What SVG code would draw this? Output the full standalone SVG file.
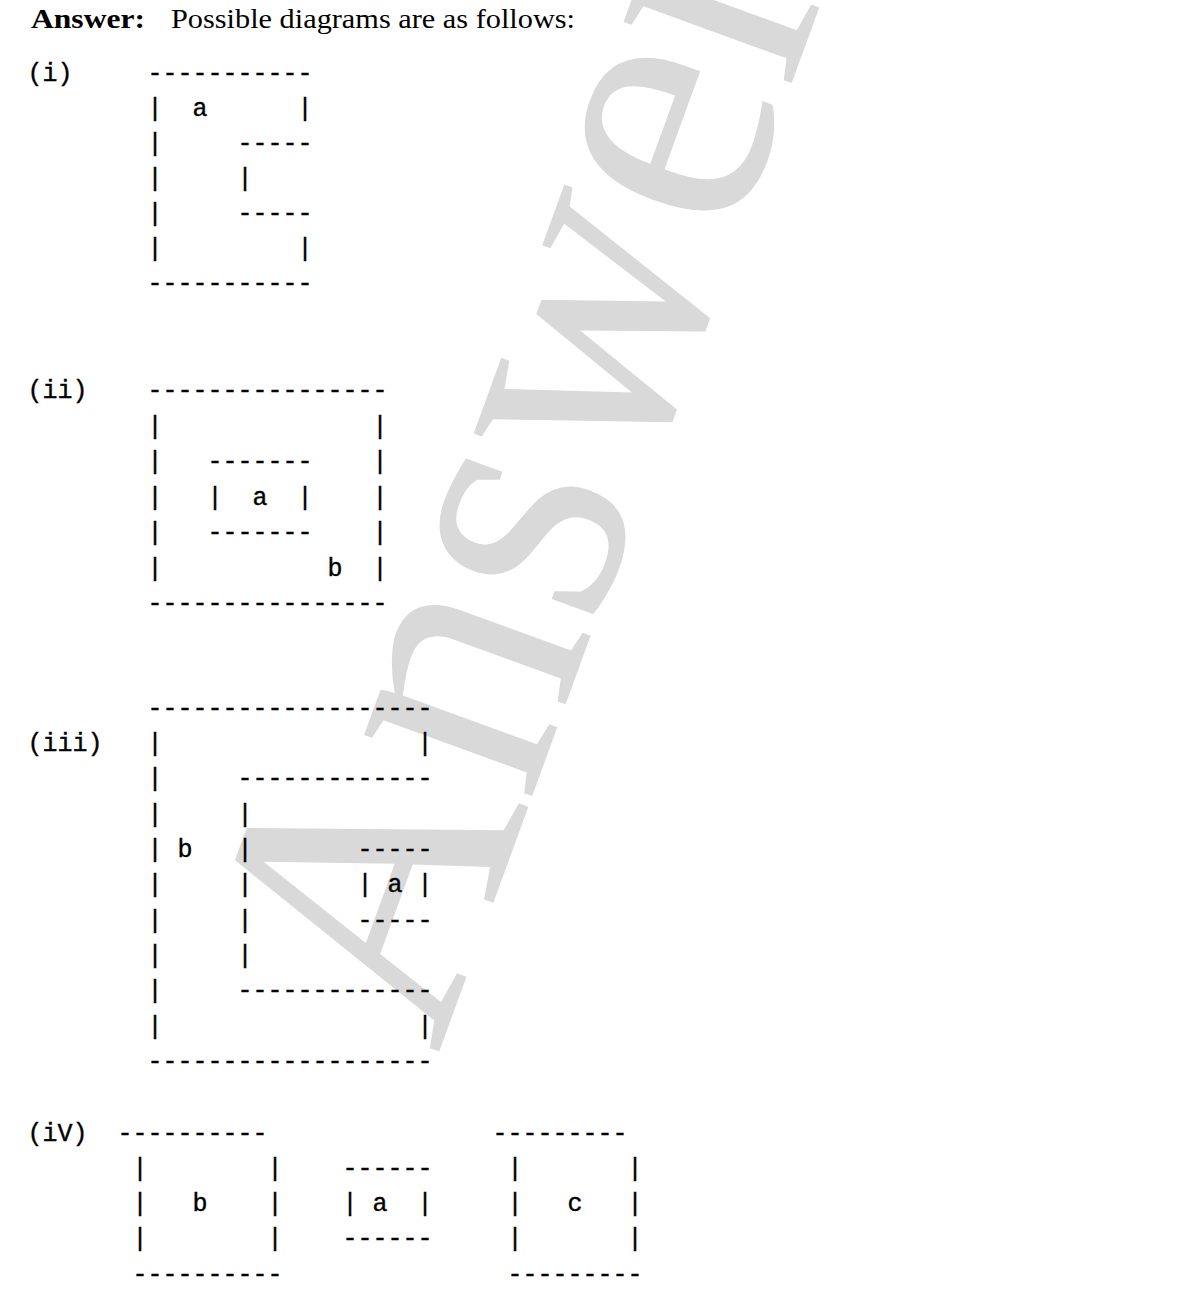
<svg xmlns="http://www.w3.org/2000/svg" width="1198" height="1302" viewBox="0 0 1198 1302" xml:space="preserve">
<style>
.wm{font-family:"Liberation Serif","DejaVu Serif",serif;fill:#d9d9d9}
.hd{font-family:"Liberation Serif","DejaVu Serif",serif;fill:#000}
.tt{font-family:"Liberation Mono","DejaVu Sans Mono",monospace;font-size:25px;fill:#000;stroke:#000;stroke-width:0.4;white-space:pre}
</style>
<rect width="1198" height="1302" fill="#ffffff"/>
<g id="watermark"><text class="wm" transform="translate(438,1055) rotate(-70)" font-size="390" textLength="1150" lengthAdjust="spacingAndGlyphs">Answer</text></g>
<g id="header">
<text class="hd" x="31" y="28" font-size="27" font-weight="bold" textLength="114" lengthAdjust="spacingAndGlyphs">Answer:</text>
<text class="hd" x="171" y="28" font-size="27" textLength="404" lengthAdjust="spacingAndGlyphs">Possible diagrams are as follows:</text>
</g>
<g id="diagram-i">
<text class="tt" x="27.5" y="81">(i)</text>
<text class="tt" x="147.5" y="81">-----------</text>
<text class="tt" x="147.5" y="116">|  a      |</text>
<text class="tt" x="147.5" y="151">|     -----</text>
<text class="tt" x="147.5" y="186">|     |</text>
<text class="tt" x="147.5" y="221">|     -----</text>
<text class="tt" x="147.5" y="256">|         |</text>
<text class="tt" x="147.5" y="291">-----------</text>
</g>
<g id="diagram-ii">
<text class="tt" x="27.5" y="398">(ii)</text>
<text class="tt" x="147.5" y="398">----------------</text>
<text class="tt" x="147.5" y="433.5">|              |</text>
<text class="tt" x="147.5" y="469">|   -------    |</text>
<text class="tt" x="147.5" y="504.5">|   |  a  |    |</text>
<text class="tt" x="147.5" y="540">|   -------    |</text>
<text class="tt" x="147.5" y="575.5">|           b  |</text>
<text class="tt" x="147.5" y="611">----------------</text>
</g>
<g id="diagram-iii">
<text class="tt" x="147.5" y="715.7">-------------------</text>
<text class="tt" x="27.5" y="751">(iii)</text>
<text class="tt" x="147.5" y="751">|                 |</text>
<text class="tt" x="147.5" y="786.4">|     -------------</text>
<text class="tt" x="147.5" y="821.7">|     |</text>
<text class="tt" x="147.5" y="857">| b   |       -----</text>
<text class="tt" x="147.5" y="892.4">|     |       | a |</text>
<text class="tt" x="147.5" y="927.7">|     |       -----</text>
<text class="tt" x="147.5" y="963">|     |</text>
<text class="tt" x="147.5" y="998.3">|     -------------</text>
<text class="tt" x="147.5" y="1033.7">|                 |</text>
<text class="tt" x="147.5" y="1069">-------------------</text>
</g>
<g id="diagram-iv">
<text class="tt" x="27.5" y="1140.7">(iV)</text>
<text class="tt" x="117.5" y="1140.7">----------               ---------</text>
<text class="tt" x="117.5" y="1175.9"> |        |    ------     |       |</text>
<text class="tt" x="117.5" y="1211.1"> |   b    |    | a  |     |   c   |</text>
<text class="tt" x="117.5" y="1246.3"> |        |    ------     |       |</text>
<text class="tt" x="117.5" y="1281.5"> ----------               ---------</text>
</g>
</svg>
